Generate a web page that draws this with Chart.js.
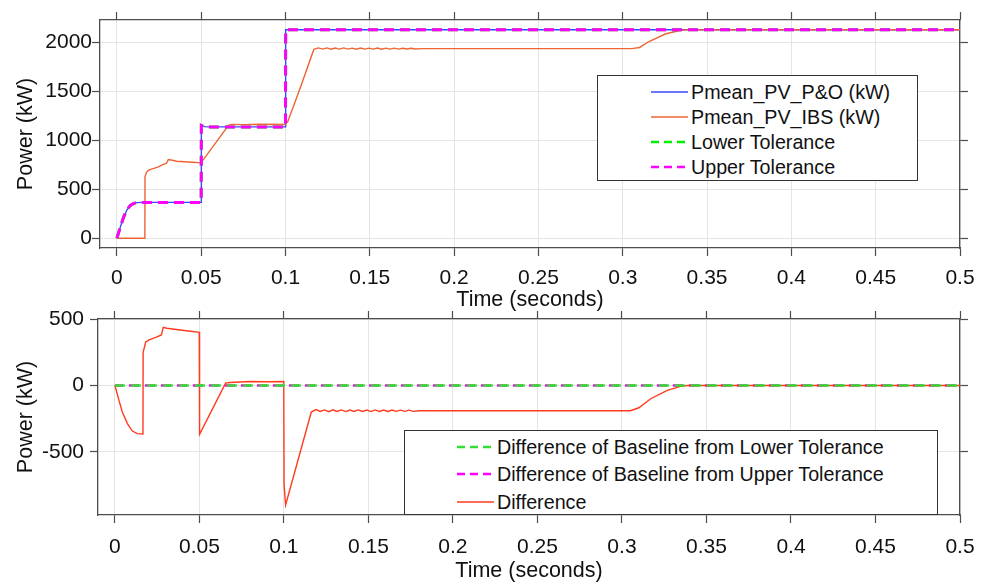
<!DOCTYPE html>
<html lang="en">
<head>
<meta charset="UTF-8" />
<title>PV Power Tracking</title>
<script src="https://cdn.jsdelivr.net/npm/chart.js"></script>
<style>
  body {
    margin: 0;
    background: #fff;
    width: 987px;
    height: 584px;
    position: relative;
    overflow: hidden;
    font-family: 'Liberation Sans', Arial, sans-serif;
  }
  canvas { position: absolute; left: 0; }
  #topChart { top: 0; }
  #bottomChart { top: 290px; }
  .legend {
    position: absolute;
    background: #fff;
    border: 1px solid #333;
    box-sizing: border-box;
    font-size: 19.7px;
    color: #111;
  }
  .legend .row {
    position: absolute;
    height: 24px;
    line-height: 24px;
    white-space: nowrap;
  }
  .legend svg { position: absolute; top: 0; }
  .legend span { position: absolute; top: 0; }
</style>
</head>
<body>
<canvas id="bottomChart" width="987" height="294"></canvas>
<canvas id="topChart" width="987" height="320"></canvas>
<div id="topLegend" class="legend" style="left:597px; top:75px; width:321px; height:106px;"></div>
<div id="bottomLegend" class="legend" style="left:404px; top:430px; width:534px; height:85px;"></div>

<script>
// ---- tick labels ----
const timeTicks = [0, 0.05, 0.1, 0.15, 0.2, 0.25, 0.3, 0.35, 0.4, 0.45, 0.5];
const powerTicksTop = [0, 500, 1000, 1500, 2000];
const powerTicksBottom = [-500, 0, 500];

// ---- top plot: baseline P&O and tolerances ----
const poTime  = [0, 0.002, 0.004, 0.006, 0.008, 0.010, 0.012, 0.015, 0.05, 0.0501, 0.052, 0.055, 0.1, 0.1001, 0.5];
const poPower = [0, 110, 215, 290, 335, 355, 363, 365, 365, 1150, 1138, 1135, 1135, 2125, 2125];
const lowerTol = [0, 110, 215, 290, 335, 355, 363, 365, 365, 1150, 1138, 1135, 1135, 2125, 2125];
const upperTol = [0, 110, 215, 290, 335, 355, 363, 365, 365, 1150, 1138, 1135, 1135, 2125, 2125];

// ---- top plot: IBS tracker ----
const ibsTime = [0, 0.0166, 0.0167, 0.0175, 0.0185, 0.0196, 0.022, 0.0246, 0.0276, 0.0295, 0.0305,
  0.033, 0.0355, 0.040, 0.045, 0.0499, 0.0663, 0.068, 0.075, 0.085, 0.0999, 0.1014, 0.109, 0.1168,
  0.1195, 0.122, 0.1245, 0.127, 0.1295, 0.132, 0.1345, 0.137, 0.1395, 0.142, 0.1445, 0.147, 0.1495,
  0.152, 0.1545, 0.157, 0.1595, 0.162, 0.1645, 0.167, 0.1695, 0.172, 0.1745, 0.177, 0.181,
  0.25, 0.3054, 0.310, 0.3153, 0.3252, 0.3331, 0.337, 0.5];
const ibsPower = [0, 0, 625, 670, 690, 700, 712, 728, 752, 765, 803,
  795, 785, 780, 775, 768, 1153, 1160, 1158, 1162, 1160, 1190, 1544, 1925,
  1940, 1928, 1940, 1927, 1939, 1928, 1940, 1928, 1938, 1927, 1939, 1928, 1938,
  1928, 1939, 1927, 1938, 1928, 1938, 1928, 1937, 1929, 1937, 1929, 1933,
  1933, 1933, 1945, 2003, 2082, 2115, 2124, 2125];

// ---- bottom plot: difference and tolerance bands ----
const diffTime = [0, 0.0024, 0.0044, 0.0074, 0.0103, 0.0133, 0.0166, 0.0167, 0.0182, 0.0202, 0.0242,
  0.0275, 0.0286, 0.0307, 0.0341, 0.041, 0.0499, 0.0501, 0.0655, 0.068, 0.08, 0.09, 0.0999, 0.1001,
  0.101, 0.1162, 0.119, 0.1215, 0.124, 0.1265, 0.129, 0.1315, 0.134, 0.1365, 0.139, 0.1415, 0.144,
  0.1465, 0.149, 0.1515, 0.154, 0.1565, 0.159, 0.1615, 0.164, 0.1665, 0.169, 0.1715, 0.174, 0.1765,
  0.18, 0.25, 0.305, 0.31, 0.317, 0.3268, 0.3347, 0.3387, 0.5];
const diffPower = [0, -112, -200, -287, -343, -363, -365, 250, 325, 343, 362,
  380, 437, 430, 425, 413, 400, -368, 17, 22, 30, 28, 30, -750,
  -900, -200, -182, -196, -184, -197, -183, -196, -184, -197, -185, -196, -184,
  -196, -185, -197, -184, -196, -185, -196, -185, -195, -186, -195, -186, -195,
  -190, -190, -190, -168, -100, -37, -7, 0, 0];
const diffTolTime = [0, 0.5];
const lowerDiff = [0, 0];
const upperDiff = [0, 0];

const FONT = "'Liberation Sans', Arial, sans-serif";
const FRAME = '#4d4d4d';
const GRID = '#e4e4e4';

function points(xs, ys) {
  return xs.map((x, i) => ({ x: x, y: ys[i] }));
}

function fixedTicks(values) {
  return scale => { scale.ticks = values.map(v => ({ value: v })); };
}

// builds the four scales (labelled bottom/left, bare top/right frame edges)
function makeScales(cfg) {
  const frameAxis = {
    border: { color: FRAME, width: 1.3 },
    grid: { drawOnChartArea: false, tickLength: 8, tickColor: FRAME, tickWidth: 1.2 },
    ticks: { display: false }
  };
  return {
    x: {
      type: 'linear', position: 'bottom', min: -0.01, max: 0.5,
      afterBuildTicks: fixedTicks(timeTicks),
      afterFit: s => { s.height = cfg.xHeight; },
      border: { color: FRAME, width: 1.3 },
      grid: { color: GRID, lineWidth: 1, tickLength: 8, tickColor: FRAME, tickWidth: 1.2 },
      ticks: {
        padding: cfg.xTickPad, color: '#111', maxRotation: 0, autoSkip: false,
        font: { family: FONT, size: 21 },
        callback: v => String(v)
      },
      title: {
        display: true, text: 'Time (seconds)', color: '#111',
        font: { family: FONT, size: 21.5 },
        padding: { top: 0, bottom: cfg.xTitlePad }
      }
    },
    xTop: Object.assign({
      type: 'linear', position: 'top', min: -0.01, max: 0.5,
      afterBuildTicks: fixedTicks(timeTicks),
      afterFit: s => { s.height = cfg.topHeight; }
    }, frameAxis),
    y: {
      type: 'linear', position: 'left', min: cfg.yMin, max: cfg.yMax,
      afterBuildTicks: fixedTicks(cfg.yTicks),
      afterFit: s => { s.width = cfg.yWidth; },
      border: { color: FRAME, width: 1.3 },
      grid: { color: GRID, lineWidth: 1, tickLength: 8, tickColor: FRAME, tickWidth: 1.2 },
      ticks: {
        padding: cfg.yTickPad, color: '#111', autoSkip: false,
        font: { family: FONT, size: 21 },
        callback: v => String(v)
      },
      title: {
        display: true, text: 'Power (kW)', color: '#111',
        font: { family: FONT, size: 21.5 },
        padding: { top: 13, bottom: 0 }
      }
    },
    yRight: Object.assign({
      type: 'linear', position: 'right', min: cfg.yMin, max: cfg.yMax,
      afterBuildTicks: fixedTicks(cfg.yTicks),
      afterFit: s => { s.width = 27; }
    }, frameAxis)
  };
}

const baseOptions = {
  responsive: false,
  animation: false,
  layout: { padding: 0 },
  elements: { point: { radius: 0 }, line: { tension: 0 } },
  plugins: { legend: { display: false }, tooltip: { enabled: false } }
};

const topChart = new Chart(document.getElementById('topChart'), {
  type: 'line',
  data: {
    datasets: [
      { label: 'Pmean_PV_P&O (kW)', data: points(poTime, poPower),
        borderColor: '#3a47ff', borderWidth: 1.4, order: 4 },
      { label: 'Pmean_PV_IBS (kW)', data: points(ibsTime, ibsPower),
        borderColor: '#ee6433', borderWidth: 1.4, order: 3 },
      { label: 'Lower Tolerance', data: points(poTime, lowerTol),
        borderColor: '#00ee00', borderWidth: 3, borderDash: [10, 6], order: 2 },
      { label: 'Upper Tolerance', data: points(poTime, upperTol),
        borderColor: '#ff00ff', borderWidth: 3, borderDash: [10, 6], order: 1 }
    ]
  },
  options: Object.assign({}, baseOptions, {
    scales: makeScales({
      yMin: -100, yMax: 2225, yTicks: powerTicksTop,
      xHeight: 72, topHeight: 20, yWidth: 100,
      xTickPad: 10, xTitlePad: 7, yTickPad: 0
    })
  })
});

const bottomChart = new Chart(document.getElementById('bottomChart'), {
  type: 'line',
  data: {
    datasets: [
      { label: 'Difference of Baseline from Lower Tolerance', data: points(diffTolTime, lowerDiff),
        borderColor: '#33dd33', borderWidth: 2.6, borderDash: [10, 6], order: 1 },
      { label: 'Difference of Baseline from Upper Tolerance', data: points(diffTolTime, upperDiff),
        borderColor: '#ff00ff', borderWidth: 2.6, borderDash: [10, 6], borderDashOffset: 2, order: 3 },
      { label: 'Difference', data: points(diffTime, diffPower),
        borderColor: '#ff3b1e', borderWidth: 1.4, order: 2 }
    ]
  },
  options: Object.assign({}, baseOptions, {
    scales: makeScales({
      yMin: -975, yMax: 500, yTicks: powerTicksBottom,
      xHeight: 69, topHeight: 29, yWidth: 98,
      xTickPad: 12, xTitlePad: 0, yTickPad: 6
    })
  })
});

// legend boxes inside the axes, built from the dataset styles
function makeLegend(id, chart, rows, sampleX, textX) {
  const box = document.getElementById(id);
  chart.data.datasets.forEach((ds, i) => {
    const row = document.createElement('div');
    row.className = 'row';
    row.style.top = (rows[i] - 12) + 'px';
    row.style.left = '0px';
    const dash = ds.borderDash ? 'stroke-dasharray="8 5"' : '';
    const w = ds.borderDash ? 2.6 : 1.3;
    row.innerHTML =
      '<svg width="40" height="24" style="left:' + sampleX + 'px">' +
      '<line x1="0" y1="12" x2="37" y2="12" stroke="' + ds.borderColor + '" stroke-width="' + w + '" ' + dash + '/></svg>' +
      '<span style="left:' + textX + 'px"></span>';
    row.querySelector('span').textContent = ds.label;
    box.appendChild(row);
  });
}

makeLegend('topLegend', topChart, [16, 41, 66, 91], 53, 93);
makeLegend('bottomLegend', bottomChart, [16, 43, 71], 52, 92);
</script>
</body>
</html>
